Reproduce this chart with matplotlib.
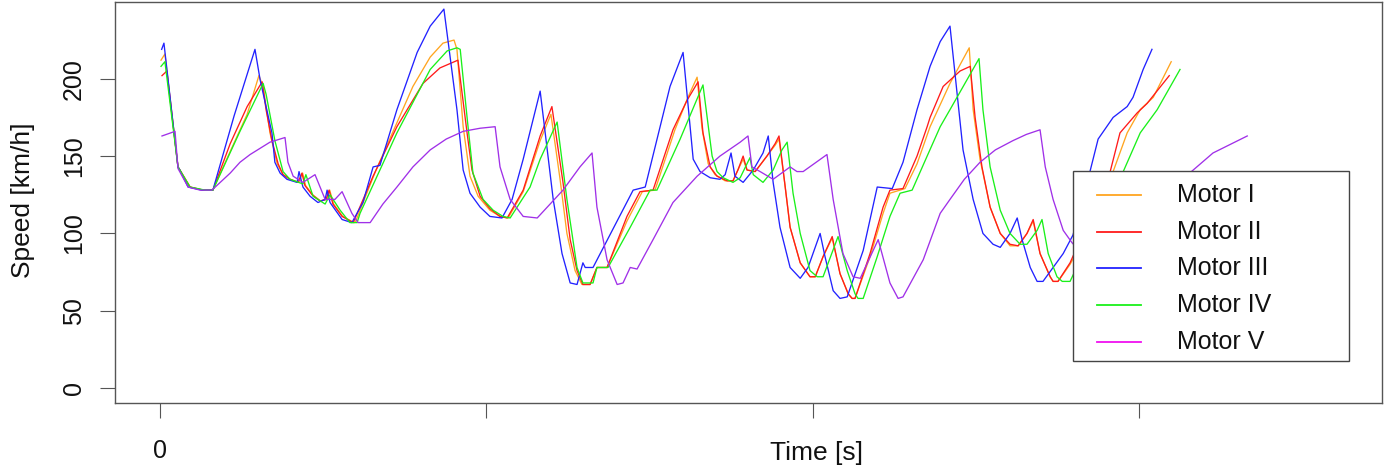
import matplotlib
matplotlib.use("Agg")
import matplotlib.pyplot as plt
from matplotlib.lines import Line2D
from matplotlib.patches import Rectangle

plt.rcParams['font.family'] = ['Liberation Sans', 'DejaVu Sans']

# ---------------- data (time [s], speed [km/h]) ----------------
MOTOR_I = [(3, 212), (15, 216), (55, 143), (92, 130), (132, 128), (162, 128), (215, 153), (267, 177),
           (303, 202), (316, 195), (337, 165), (359, 145), (377, 138), (400, 135), (425, 133), (437, 139),
           (446, 131), (468, 125), (492, 121), (511, 122), (520, 128), (532, 119), (560, 111), (595, 107),
           (600, 108), (660, 140), (775, 195), (828, 214), (867, 223), (901, 225), (910, 219), (929, 169),
           (950, 137), (975, 124), (1011, 115), (1042, 111), (1067, 110), (1113, 127), (1165, 160),
           (1198, 177), (1226, 135), (1247, 100), (1272, 76), (1293, 67), (1318, 67), (1339, 78), (1370, 78),
           (1431, 108), (1478, 127), (1517, 128), (1578, 167), (1618, 188), (1646, 201), (1661, 168),
           (1680, 145), (1701, 138), (1732, 134), (1756, 134), (1771, 141), (1787, 148), (1799, 141),
           (1824, 140), (1860, 150), (1885, 157), (1897, 161), (1916, 130), (1931, 104), (1962, 81),
           (1992, 72), (2008, 72), (2032, 85), (2060, 97), (2084, 74), (2109, 61), (2121, 58), (2130, 58),
           (2176, 85), (2216, 113), (2237, 126), (2283, 129), (2320, 145), (2360, 169), (2421, 197),
           (2480, 220), (2492, 180), (2513, 148), (2544, 117), (2575, 100), (2605, 92), (2630, 92),
           (2657, 100), (2676, 108), (2697, 87), (2728, 72), (2737, 69), (2752, 69), (2789, 80), (2866, 110),
           (2921, 140), (2964, 165), (3004, 180), (3044, 188), (3099, 211)]

MOTOR_II = [(6, 202), (21, 205), (55, 143), (61, 141), (92, 130), (132, 128), (162, 128), (215, 158),
            (267, 182), (313, 198), (325, 180), (343, 160), (362, 145), (377, 138), (398, 135), (423, 133),
            (435, 139), (444, 131), (466, 125), (490, 121), (509, 122), (518, 128), (530, 119), (558, 111),
            (592, 107), (653, 137), (726, 169), (806, 197), (858, 207), (913, 212), (941, 165), (956, 141),
            (981, 124), (1011, 116), (1042, 111), (1064, 110), (1113, 128), (1165, 163), (1201, 182),
            (1235, 133), (1257, 96), (1278, 76), (1296, 67), (1318, 67), (1339, 78), (1370, 78), (1431, 111),
            (1471, 127), (1511, 128), (1572, 167), (1615, 186), (1649, 198), (1664, 165), (1686, 143),
            (1707, 137), (1738, 134), (1756, 134), (1771, 141), (1787, 150), (1799, 141), (1824, 140),
            (1860, 150), (1885, 158), (1897, 163), (1916, 130), (1931, 104), (1962, 81), (1992, 72),
            (2008, 72), (2032, 85), (2060, 98), (2084, 74), (2109, 61), (2121, 58), (2130, 58), (2176, 87),
            (2216, 117), (2237, 128), (2277, 129), (2320, 150), (2351, 169), (2360, 175), (2400, 195),
            (2452, 205), (2483, 208), (2498, 175), (2519, 143), (2544, 117), (2575, 100), (2605, 93),
            (2630, 92), (2657, 100), (2676, 109), (2697, 87), (2728, 72), (2737, 69), (2752, 69), (2789, 81),
            (2850, 110), (2912, 140), (2942, 165), (2995, 178), (3025, 184), (3093, 202)]

MOTOR_III = [(5, 219), (12, 223), (55, 143), (61, 141), (86, 130), (129, 128), (162, 128), (227, 176),
             (291, 219), (307, 199), (343, 165), (352, 146), (368, 139), (389, 135), (420, 133), (426, 140),
             (438, 130), (460, 124), (484, 120), (506, 122), (512, 128), (521, 120), (558, 109), (588, 107),
             (622, 120), (653, 143), (674, 144), (726, 180), (788, 217), (828, 234), (870, 245), (910, 180),
             (929, 141), (950, 126), (981, 117), (1011, 111), (1048, 110), (1079, 122), (1113, 148),
             (1165, 192), (1205, 122), (1232, 87), (1257, 68), (1278, 67), (1296, 81), (1303, 78),
             (1327, 78), (1450, 128), (1487, 130), (1563, 195), (1603, 217), (1634, 148), (1655, 140),
             (1686, 136), (1716, 135), (1732, 138), (1750, 152), (1762, 137), (1787, 133), (1818, 141),
             (1848, 152), (1864, 163), (1879, 133), (1900, 104), (1931, 78), (1962, 71), (1986, 78),
             (2023, 100), (2038, 85), (2063, 63), (2084, 58), (2106, 59), (2155, 89), (2198, 130),
             (2244, 129), (2277, 146), (2320, 180), (2360, 208), (2391, 224), (2421, 234), (2461, 154),
             (2492, 122), (2522, 100), (2553, 93), (2575, 91), (2605, 100), (2627, 110), (2642, 96),
             (2667, 78), (2688, 69), (2706, 69), (2768, 87), (2798, 99), (2850, 140), (2875, 161),
             (2921, 175), (2964, 182), (2982, 188), (3013, 206), (3040, 219)]

MOTOR_IV = [(3, 208), (15, 211), (55, 143), (92, 130), (138, 128), (162, 128), (245, 166), (316, 197),
            (325, 190), (352, 160), (377, 140), (398, 135), (438, 132), (447, 138), (469, 124), (506, 119),
            (521, 125), (552, 115), (582, 107), (604, 107), (613, 113), (726, 165), (828, 206), (880, 218),
            (910, 220), (920, 219), (941, 175), (959, 139), (990, 122), (1021, 115), (1051, 111), (1073, 110),
            (1134, 130), (1165, 148), (1217, 172), (1247, 122), (1278, 78), (1296, 68), (1327, 68),
            (1339, 78), (1373, 78), (1441, 104), (1502, 128), (1523, 128), (1594, 161), (1664, 196),
            (1692, 150), (1707, 140), (1726, 136), (1756, 133), (1778, 136), (1808, 149), (1818, 138),
            (1848, 133), (1879, 141), (1906, 154), (1922, 159), (1940, 126), (1962, 100), (1992, 76),
            (2014, 72), (2032, 72), (2078, 98), (2106, 76), (2130, 61), (2139, 58), (2155, 58), (2198, 85),
            (2237, 111), (2268, 126), (2305, 128), (2351, 150), (2391, 169), (2421, 180), (2510, 213),
            (2522, 180), (2544, 143), (2575, 115), (2605, 100), (2636, 93), (2657, 93), (2688, 102),
            (2703, 109), (2722, 87), (2749, 72), (2765, 69), (2789, 69), (2881, 110), (2952, 140),
            (3004, 165), (3056, 180), (3126, 206)]

MOTOR_V = [(6, 163), (46, 166), (55, 142), (86, 130), (123, 128), (159, 128), (215, 139), (245, 146),
           (276, 151), (337, 159), (383, 162), (392, 146), (408, 137), (438, 133), (475, 138), (506, 122),
           (536, 122), (558, 127), (588, 113), (607, 107), (644, 107), (683, 119), (726, 130), (775, 143),
           (828, 154), (877, 161), (929, 166), (981, 168), (1027, 169), (1042, 143), (1073, 122), (1113, 111),
           (1156, 110), (1235, 128), (1287, 143), (1324, 152), (1339, 117), (1370, 83), (1401, 67),
           (1419, 68), (1441, 78), (1462, 77), (1511, 96), (1572, 120), (1646, 137), (1716, 150), (1778, 159),
           (1802, 163), (1814, 143), (1839, 140), (1879, 135), (1931, 143), (1952, 140), (1971, 140),
           (2044, 151), (2063, 122), (2093, 87), (2124, 72), (2146, 71), (2201, 96), (2237, 68), (2262, 58),
           (2277, 59), (2339, 83), (2391, 113), (2421, 122), (2465, 135), (2513, 146), (2560, 154),
           (2614, 160), (2655, 164), (2697, 167), (2713, 143), (2737, 122), (2768, 102), (2795, 94),
           (2835, 85), (2881, 62), (2912, 58), (3034, 95), (3161, 140), (3227, 152), (3332, 163)]

SERIES_NAMES = ['Motor I', 'Motor II', 'Motor III', 'Motor IV', 'Motor V']
SERIES_DATA = [MOTOR_I, MOTOR_II, MOTOR_III, MOTOR_IV, MOTOR_V]
LINE_COLORS = ['#FFA520', '#FF1A1A', '#2222FF', '#1AF01A', '#A030E8']
LEGEND_COLORS = ['#FFA520', '#FF1A1A', '#2222FF', '#1AF01A', '#F010F0']

Y_TICKS = [0, 50, 100, 150, 200]
X_TICKS = [0, 1000, 2000, 3000]
X_TICK_LABELS = ['0', '', '', '']

# ---------------- figure ----------------
W, H = 1388, 474
fig = plt.figure(figsize=(W / 100, H / 100), dpi=100)
ax = fig.add_axes([115 / W, 71 / H, 1267 / W, 401 / H])

for data, color in zip(SERIES_DATA, LINE_COLORS):
    t, v = zip(*data)
    ax.plot(t, v, color=color, lw=0.95, solid_joinstyle='round')

ax.set_xlim(-138, 3745)
ax.set_ylim(-9.6, 249.6)

ax.set_yticks(Y_TICKS)
ax.set_yticklabels([str(y) for y in Y_TICKS], rotation=90, va='center')
ax.set_xticks(X_TICKS)
ax.set_xticklabels(X_TICK_LABELS)
ax.tick_params(axis='both', length=11, width=0.8, color='#555555', labelsize=18, labelcolor='#111111')
ax.tick_params(axis='x', pad=15)
ax.tick_params(axis='y', pad=10)
for s in ax.spines.values():
    s.set_color('#555555')
    s.set_linewidth(1.0)

ax.text(0.554, -0.125, 'Time [s]', transform=ax.transAxes, ha='center', va='center', fontsize=19,
        color='#111111')
ax.text(-0.0726, 0.506, 'Speed [km/h]', transform=ax.transAxes, ha='center', va='center', fontsize=19,
        rotation=90, color='#111111')

# ---------------- legend (R style box) ----------------
ax.add_patch(Rectangle((0.756, 0.1047), 0.218, 0.474, transform=ax.transAxes, facecolor='white',
                       edgecolor='#444444', lw=1.0, zorder=5))
for i, (name, color) in enumerate(zip(SERIES_NAMES, LEGEND_COLORS)):
    yy = 0.519 - i * 0.0915
    ax.add_line(Line2D([0.775, 0.810], [yy, yy], transform=ax.transAxes, color=color, lw=1.3, zorder=6))
    ax.text(0.838, yy, name, transform=ax.transAxes, ha='left', va='center', fontsize=18,
            color='#111111', zorder=6)

fig.savefig('out.png', dpi=100)
